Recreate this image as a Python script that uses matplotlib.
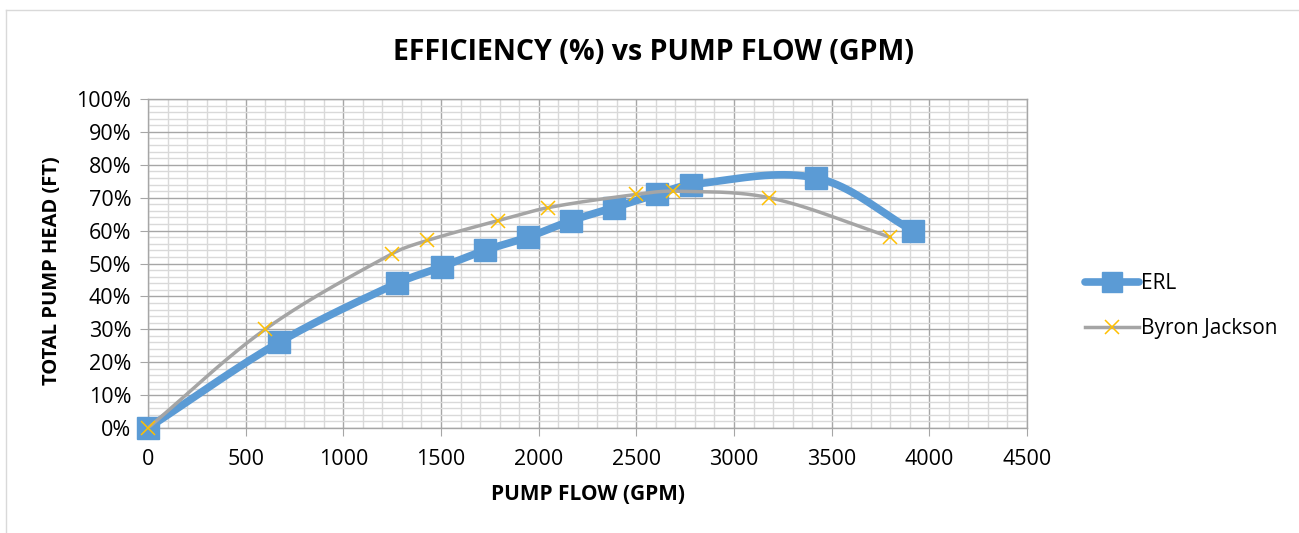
import numpy as np
import matplotlib
matplotlib.use("Agg")
import matplotlib.pyplot as plt
from matplotlib.lines import Line2D
from matplotlib.ticker import MultipleLocator, PercentFormatter

# Efficiency curves: flow (GPM) vs efficiency (%)
erl_flow = [0, 670, 1275, 1505, 1725, 1945, 2165, 2385, 2605, 2780, 3420, 3915]
erl_eff = [0, 26, 44, 49, 54, 58, 63, 67, 71, 74, 76, 60]

bj_flow = [0, 600, 1250, 1430, 1790, 2050, 2500, 2690, 3180, 3800]
bj_eff = [0, 30, 53, 57, 63, 67, 71, 72, 70, 58]

x_ticks = [0, 500, 1000, 1500, 2000, 2500, 3000, 3500, 4000, 4500]

BLUE = "#5B9BD5"
GRAY = "#A5A5A5"
GOLD = "#FFC000"

W, H = 1299, 533
AX_L, AX_R, AX_B, AX_T = 148, 1027, 428, 99
X_MAX, Y_MAX = 4500, 100


def smooth(xs, ys, n=40):
    """Bezier smoothing through every point; handles scaled to segment length
    in screen space so uneven spacing does not kink the curve."""
    sxs = np.asarray(xs, float) / X_MAX * (AX_R - AX_L)
    sys_ = np.asarray(ys, float) / Y_MAX * (AX_B - AX_T)
    P = np.column_stack([sxs, sys_])
    m = len(P)
    tang = np.zeros_like(P)
    for i in range(m):
        a = P[max(i - 1, 0)]
        b = P[min(i + 1, m - 1)]
        d = b - a
        tang[i] = d / np.linalg.norm(d)
    t = np.linspace(0, 1, n)[:, None]
    pts = []
    for i in range(m - 1):
        p0, p3 = P[i], P[i + 1]
        L = np.linalg.norm(p3 - p0) / 3
        c1 = p0 + tang[i] * L
        c2 = p3 - tang[i + 1] * L
        b = (1 - t) ** 3 * p0 + 3 * (1 - t) ** 2 * t * c1 + 3 * (1 - t) * t ** 2 * c2 + t ** 3 * p3
        pts.append(b)
    pts = np.vstack(pts)
    return pts[:, 0] / (AX_R - AX_L) * X_MAX, pts[:, 1] / (AX_B - AX_T) * Y_MAX


plt.rcParams["font.family"] = ["Open Sans", "DejaVu Sans"]

fig = plt.figure(figsize=(W / 100, H / 100), dpi=100)
ax = fig.add_axes([AX_L / W, (H - AX_B) / H, (AX_R - AX_L) / W, (AX_B - AX_T) / H])

ax.set_xlim(0, X_MAX)
ax.set_ylim(0, Y_MAX)
ax.xaxis.set_major_locator(MultipleLocator(500))
ax.xaxis.set_minor_locator(MultipleLocator(100))
ax.yaxis.set_major_locator(MultipleLocator(10))
ax.yaxis.set_minor_locator(MultipleLocator(2))
ax.yaxis.set_major_formatter(PercentFormatter(decimals=0))
ax.set_xticks(x_ticks)

ax.grid(which="minor", color="#D9D9D9", lw=1.0, zorder=0)
ax.grid(which="major", color="#A6A6A6", lw=1.0, zorder=0)
ax.set_axisbelow(True)
for side in ["top", "right", "left", "bottom"]:
    ax.spines[side].set_color("#A6A6A6")
    ax.spines[side].set_linewidth(1.0)
ax.tick_params(which="major", direction="out", length=6, color="#A6A6A6",
               labelsize=15.5, pad=6)
ax.tick_params(axis="x", pad=9)
ax.tick_params(which="minor", length=0)

# ERL curve
sx, sy = smooth(erl_flow, erl_eff)
ax.plot(sx, sy, color=BLUE, lw=5.5, solid_capstyle="round", zorder=3)
ax.plot(erl_flow, erl_eff, ls="none", marker="s", ms=16, color=BLUE,
        zorder=4, clip_on=False)

# Byron Jackson curve
bx, by = smooth(bj_flow, bj_eff)
ax.plot(bx, by, color=GRAY, lw=2.5, solid_capstyle="round", zorder=5)
ax.plot(bj_flow, bj_eff, ls="none", marker="x", ms=10, mew=1.1, color=GOLD,
        zorder=6, clip_on=False)

fig.text(653 / W, (H - 52) / H, "EFFICIENCY (%) vs PUMP FLOW (GPM)",
         fontsize=20.5, fontweight="bold", ha="center", va="center")
fig.text(588 / W, (H - 494) / H, "PUMP FLOW (GPM)", fontsize=15, fontweight="bold",
         ha="center", va="center")
fig.text(52 / W, (H - 271) / H, "TOTAL PUMP HEAD (FT)", fontsize=14.5,
         fontweight="bold", ha="center", va="center", rotation=90)

handles = [
    Line2D([], [], color=BLUE, lw=5.5, marker="s", ms=14, solid_capstyle="round"),
    Line2D([], [], color=GRAY, lw=2.5, marker="x", ms=10, mew=1.1, mec=GOLD),
]
fig.legend(handles, ["ERL", "Byron Jackson"], loc="center left",
           bbox_to_anchor=(1066 / W, (H - 306) / H), frameon=False, fontsize=15,
           handlelength=2.6, handletextpad=0.1, labelspacing=1.15)

# outer chart frame
fig.add_artist(Line2D([6 / W, 6 / W], [0, (H - 10) / H], color="#D9D9D9", lw=1,
                      transform=fig.transFigure))
fig.add_artist(Line2D([6 / W, 1], [(H - 10) / H, (H - 10) / H], color="#D9D9D9",
                      lw=1, transform=fig.transFigure))

fig.savefig("out.png", dpi=100)
